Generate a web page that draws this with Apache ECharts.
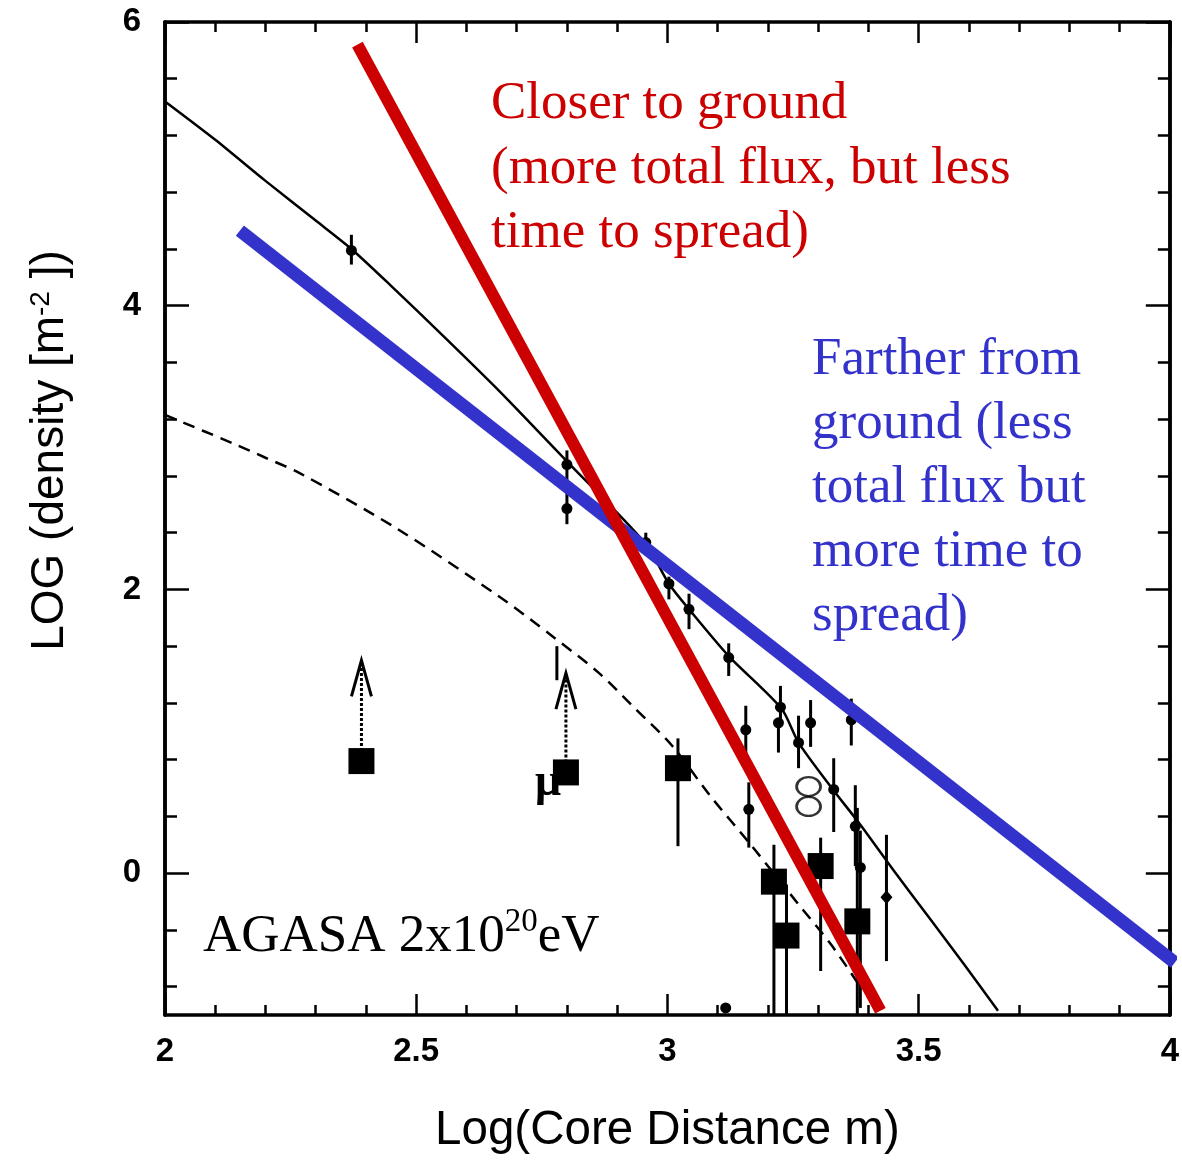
<!DOCTYPE html>
<html>
<head>
<meta charset="utf-8">
<script src="https://cdn.jsdelivr.net/npm/echarts@6/dist/echarts.min.js"></script>
<style>
  html, body { margin: 0; padding: 0; background: #fff; }
  #chart { width: 1182px; height: 1160px; }
</style>
</head>
<body>
<div id="chart"></div>
<script>
// Lateral density distribution of the AGASA 2x10^20 eV shower

// axis ticks
const yLabelValues = [0, 2, 4, 6];
const yMinorValues = [-0.8, -0.4, 0.4, 0.8, 1.2, 1.6, 2.4, 2.8, 3.2, 3.6, 4.4, 4.8, 5.2, 5.6];

// fitted lateral distribution (solid curve)
const fitX = [2.000, 2.100, 2.200, 2.300, 2.371, 2.450, 2.550, 2.665, 2.798, 2.957, 3.003, 3.043, 3.122, 3.227, 3.261, 3.327, 3.380, 3.450, 3.520, 3.590, 3.658];
const fitY = [5.44, 5.17, 4.88, 4.60, 4.40, 4.14, 3.80, 3.40, 2.91, 2.32, 2.04, 1.86, 1.53, 1.16, 0.92, 0.60, 0.36, 0.02, -0.31, -0.64, -0.97];

// muon lateral distribution (dashed curve)
const muFitX = [2.000, 2.135, 2.199, 2.268, 2.461, 2.665, 2.771, 2.864, 2.930, 3.009, 3.084, 3.166, 3.261, 3.325, 3.380];
const muFitY = [3.23, 3.03, 2.93, 2.82, 2.43, 1.95, 1.67, 1.41, 1.18, 0.90, 0.55, 0.20, -0.22, -0.50, -0.78];

// scintillator densities with error bars
const dotX  = [2.371, 2.800, 2.800, 2.957, 3.003, 3.043, 3.122, 3.156, 3.162, 3.225, 3.221, 3.261, 3.285, 3.366, 3.331, 3.374, 3.384, 3.116];
const dotY  = [4.39, 2.88, 2.57, 2.33, 2.04, 1.86, 1.52, 1.01, 0.45, 1.17, 1.06, 0.92, 1.06, 1.08, 0.59, 0.33, 0.04, -0.95];
const dotLo = [4.29, 2.73, 2.46, 2.27, 1.93, 1.72, 1.39, 0.83, 0.18, 1.06, 0.85, 0.74, 0.89, 0.90, 0.29, 0.05, -0.95, -0.95];
const dotHi = [4.50, 2.98, 2.68, 2.40, 2.09, 1.97, 1.62, 1.18, 0.64, 1.32, 1.06, 1.11, 1.22, 1.23, 0.81, 0.62, 0.30, -0.95];

// detector with a diamond marker
const diamondX = [3.436];
const diamondY = [-0.17];
const diamondLo = [-0.62];
const diamondHi = [0.27];

// bare error bar
const barX = [2.780];
const barLo = [1.36];
const barHi = [1.60];

// muon detector densities (squares)
const sqX  = [3.021, 3.212, 3.237, 3.305, 3.378];
const sqY  = [0.74, -0.06, -0.44, 0.05, -0.34];
const sqLo = [0.19, -1.00, -1.00, -0.69, -1.00];
const sqHi = [0.95, 0.20, -0.08, 0.25, 0.46];

// muon lower limits (squares with arrows)
const limX   = [2.391, 2.798];
const limY   = [0.79, 0.71];
const limTip = [1.50, 1.41];

// double open circle
const ringX = [3.281, 3.281];
const ringY = [0.61, 0.47];

// guide lines
const redX  = [2.383, 3.424];
const redY  = [5.84, -0.97];
const blueX = [2.149, 4.010];
const blueY = [4.53, -0.63];

const zip = (...cols) => cols[0].map((_, i) => cols.map(c => c[i]));

const chart = echarts.init(document.getElementById('chart'), null, { renderer: 'canvas' });

const ink = '#000';
const tickStyle = { color: ink, width: 2.5 };
const lineStyleAxis = { color: ink, width: 3.5 };
const labelFont = { fontFamily: 'Liberation Sans', fontSize: 33, fontWeight: 'bold', color: ink };

function errorBarItem(params, api, marker) {
  const x = api.value(0);
  const p = api.coord([x, api.value(1)]);
  const lo = api.coord([x, api.value(2)]);
  const hi = api.coord([x, api.value(3)]);
  const children = [{
    type: 'line',
    shape: { x1: p[0], y1: hi[1], x2: p[0], y2: lo[1] },
    style: { stroke: ink, lineWidth: 3 }
  }];
  if (marker === 'dot') {
    children.push({ type: 'circle', shape: { cx: p[0], cy: p[1], r: 5.5 }, style: { fill: ink } });
  } else if (marker === 'diamond') {
    children.push({ type: 'polygon', shape: { points: [[p[0], p[1] - 7], [p[0] + 6, p[1]], [p[0], p[1] + 7], [p[0] - 6, p[1]]] }, style: { fill: ink } });
  } else if (marker === 'square') {
    children.push({ type: 'rect', shape: { x: p[0] - 13, y: p[1] - 13, width: 26, height: 26 }, style: { fill: ink } });
  }
  return { type: 'group', children };
}

function arrowItem(params, api) {
  const x = api.value(0);
  const p = api.coord([x, api.value(1)]);
  const tip = api.coord([x, api.value(2)]);
  return {
    type: 'group',
    children: [
      { type: 'line', shape: { x1: p[0], y1: p[1], x2: tip[0], y2: tip[1] }, style: { stroke: ink, lineWidth: 3, lineDash: [3, 2] } },
      { type: 'polyline', shape: { points: [[tip[0] - 10, tip[1] + 36], [tip[0], tip[1]], [tip[0] + 10, tip[1] + 36]] }, style: { stroke: ink, lineWidth: 3, fill: null } },
      { type: 'rect', shape: { x: p[0] - 13, y: p[1] - 13, width: 26, height: 26 }, style: { fill: ink } }
    ]
  };
}

function barOnlyItem(params, api) {
  const x = api.value(0);
  const lo = api.coord([x, api.value(1)]);
  const hi = api.coord([x, api.value(2)]);
  return { type: 'line', shape: { x1: lo[0], y1: hi[1], x2: lo[0], y2: lo[1] }, style: { stroke: ink, lineWidth: 3 } };
}

const yBase = { type: 'value', min: -1, max: 6, splitLine: { show: false }, axisLine: { show: true, onZero: false, lineStyle: lineStyleAxis } };
const xBase = { type: 'value', min: 2, max: 4, interval: 0.5, splitLine: { show: false },
  axisLine: { show: true, onZero: false, lineStyle: lineStyleAxis },
  axisTick: { show: true, inside: true, length: 21, lineStyle: tickStyle },
  minorTick: { show: true, splitNumber: 5, length: 10, lineStyle: tickStyle } };

const option = {
  backgroundColor: '#fff',
  animation: false,
  grid: { left: 165, right: 10, top: 22, bottom: 140, containLabel: false },
  xAxis: [
    Object.assign({}, xBase, {
      position: 'bottom',
      axisLabel: Object.assign({ margin: 20, formatter: v => String(v) }, labelFont),
      name: 'Log(Core Distance m)',
      nameLocation: 'middle',
      nameGap: 92,
      nameTextStyle: { fontFamily: 'Liberation Sans', fontSize: 47.5, color: ink }
    }),
    Object.assign({}, xBase, { position: 'top', axisLabel: { show: false } })
  ],
  yAxis: [
    Object.assign({}, yBase, {
      position: 'left',
      axisTick: { show: true, inside: true, length: 24, lineStyle: tickStyle, customValues: yLabelValues },
      axisLabel: Object.assign({ margin: 24, customValues: yLabelValues }, labelFont),
      name: 'LOG (density [m{s|-2} ])',
      nameLocation: 'middle',
      nameRotate: 90,
      nameGap: 92,
      nameTextStyle: {
        fontFamily: 'Liberation Sans', fontSize: 46, color: ink,
        padding: [0, 0, 0, 136],
        rich: { s: { fontFamily: 'Liberation Sans', fontSize: 28, color: ink, verticalAlign: 'top', lineHeight: 40 } }
      }
    }),
    Object.assign({}, yBase, {
      position: 'left',
      axisTick: { show: true, inside: true, length: 12, lineStyle: tickStyle, customValues: yMinorValues },
      axisLabel: { show: false }
    }),
    Object.assign({}, yBase, {
      position: 'right',
      axisTick: { show: true, inside: true, length: 24, lineStyle: tickStyle, customValues: yLabelValues },
      axisLabel: { show: false }
    }),
    Object.assign({}, yBase, {
      position: 'right',
      axisTick: { show: true, inside: true, length: 12, lineStyle: tickStyle, customValues: yMinorValues },
      axisLabel: { show: false }
    })
  ],
  graphic: [
    {
      type: 'text', left: 491, top: 72, z: 20,
      style: { text: 'Closer to ground\n(more total flux, but less\ntime to spread)', font: '53px "Liberation Serif"', fill: '#CC0000', lineHeight: 64.5 }
    },
    {
      type: 'text', left: 812, top: 328, z: 20,
      style: { text: 'Farther from\nground (less\ntotal flux but\nmore time to\nspread)', font: '53px "Liberation Serif"', fill: '#3333CC', lineHeight: 64 }
    },
    {
      type: 'text', left: 203, top: 906, z: 20,
      style: {
        text: '{a|AGASA 2x10}{s|20}{a|eV}',
        rich: {
          a: { fontFamily: 'Liberation Serif', fontSize: 53, lineHeight: 62, fill: ink },
          s: { fontFamily: 'Liberation Serif', fontSize: 33, lineHeight: 42, fill: ink, verticalAlign: 'top' }
        }
      }
    },
    {
      type: 'text', left: 535, top: 760, z: 0,
      style: { text: 'μ', font: 'bold 46px "Liberation Serif"', fill: ink }
    }
  ],
  series: [
    {
      type: 'line', name: 'fit', xAxisIndex: 0, yAxisIndex: 0, z: 2,
      data: zip(fitX, fitY), smooth: 0.25, showSymbol: false,
      lineStyle: { color: ink, width: 2.5 }
    },
    {
      type: 'line', name: 'muon fit', xAxisIndex: 0, yAxisIndex: 0, z: 2,
      data: zip(muFitX, muFitY), smooth: 0.3, showSymbol: false,
      lineStyle: { color: ink, width: 2.5, type: [12, 8] }
    },
    {
      type: 'custom', name: 'densities', z: 3,
      renderItem: (p, api) => errorBarItem(p, api, 'dot'),
      data: zip(dotX, dotY, dotLo, dotHi)
    },
    {
      type: 'custom', name: 'diamond', z: 3,
      renderItem: (p, api) => errorBarItem(p, api, 'diamond'),
      data: zip(diamondX, diamondY, diamondLo, diamondHi)
    },
    {
      type: 'custom', name: 'bar', z: 3,
      renderItem: barOnlyItem,
      data: zip(barX, barLo, barHi)
    },
    {
      type: 'custom', name: 'muon densities', z: 4,
      renderItem: (p, api) => errorBarItem(p, api, 'square'),
      data: zip(sqX, sqY, sqLo, sqHi)
    },
    {
      type: 'custom', name: 'muon limits', z: 4,
      renderItem: arrowItem,
      data: zip(limX, limY, limTip)
    },
    {
      type: 'scatter', name: 'rings', z: 4,
      data: zip(ringX, ringY), symbol: 'circle', symbolSize: [24, 19],
      itemStyle: { color: '#fff', borderColor: ink, borderWidth: 2.5 }
    },
    {
      type: 'line', name: 'farther', z: 10, clip: false,
      data: zip(blueX, blueY), showSymbol: false,
      lineStyle: { color: '#3333CC', width: 13, cap: 'butt' }
    },
    {
      type: 'line', name: 'closer', z: 11, clip: false,
      data: zip(redX, redY), showSymbol: false,
      lineStyle: { color: '#CC0000', width: 12, cap: 'butt' }
    }
  ]
};

chart.setOption(option);
</script>
</body>
</html>
